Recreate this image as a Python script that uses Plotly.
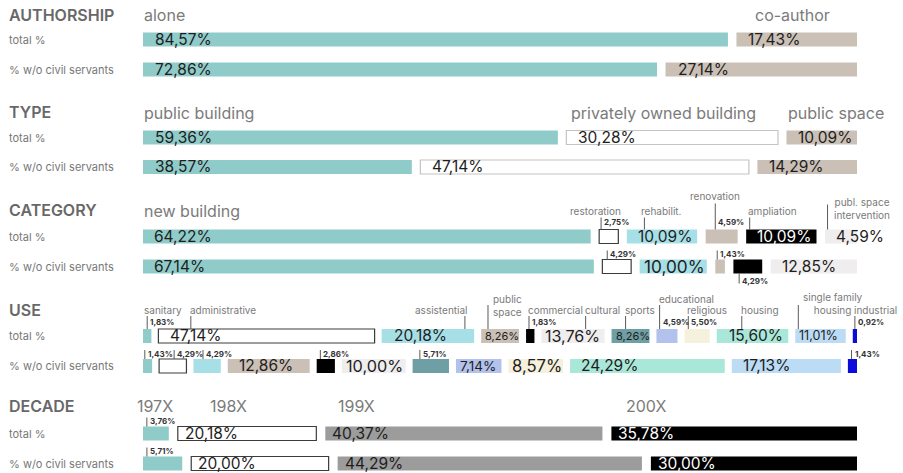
import plotly.graph_objects as go

# ---------------- values (percent) ----------------
row_labels = ["total %", "% w/o civil servants"]

authorship_names = ["alone", "co-author"]
authorship_total = [84.57, 17.43]
authorship_wo = [72.86, 27.14]

type_names = ["public building", "privately owned building", "public space"]
type_total = [59.36, 30.28, 10.09]
type_wo = [38.57, 47.14, 14.29]

category_names = ["new building", "restoration", "rehabilit.", "renovation",
                  "ampliation", "publ. space<br>intervention"]
category_total = [64.22, 2.75, 10.09, 4.59, 10.09, 4.59]
category_wo = [67.14, 4.29, 10.00, 1.43, 4.29, 12.85]

use_names = ["sanitary", "administrative", "assistential", "public<br>space",
             "commercial", "cultural", "sports", "educational", "religious",
             "housing", "single family<br>housing", "industrial"]
use_total = [1.83, 47.14, 20.18, 8.26, 1.83, 13.76, 8.26, 4.59, 5.50, 15.60, 11.01, 0.92]
use_wo = [1.43, 4.29, 4.29, 12.86, 2.86, 10.00, 5.71, 7.14, 8.57, 24.29, 17.13, 1.43]

decade_names = ["197X", "198X", "199X", "200X"]
decade_total = [3.76, 20.18, 40.37, 35.78]
decade_wo = [5.71, 20.00, 44.29, 30.00]

# ---------------- palette ----------------
TEAL = "#8fcbc9"
BEIGE = "#cac0b6"
WHITE = "#ffffff"
CYAN = "#a6dfe6"
BLACK = "#000000"
LGRAY = "#efeded"
DTEAL = "#6e9fa4"
LAV = "#b3c2ec"
CREAM = "#f6f1dc"
MINT = "#a9e8d8"
LBLUE = "#bcdcf5"
BLUE = "#0b0bdc"
GRAY = "#9c9c9c"
EDGE_DARK = "#3c3c3c"
EDGE_LIGHT = "#c4c4c4"

# ---------------- geometry (pixels) ----------------
W, H = 903, 473
X0, X1 = 143, 857
BAR_H = 14
FONT = "Inter, Lato, 'DejaVu Sans', sans-serif"
VALUE_SIZE = 15.5

fig = go.Figure()


def pct(v):
    return f"{v:.2f}".replace(".", ",") + "%"


def segments(values, gap):
    """Each row fills the full span; segment widths stay proportional."""
    avail = (X1 - X0) - gap * (len(values) - 1)
    k = avail / sum(values)
    starts, widths, pos = [], [], X0
    for v in values:
        starts.append(pos)
        widths.append(v * k)
        pos += v * k + gap
    return starts, widths


def text(x, y, s, size, color, xanchor="left", yanchor="middle", weight=400):
    fig.add_annotation(x=x, y=y, text=s, showarrow=False, xanchor=xanchor,
                       yanchor=yanchor, xref="x", yref="y", borderpad=0,
                       font=dict(family=FONT, size=size, color=color, weight=weight))


def vline(x, y0, y1):
    fig.add_shape(type="line", x0=x, x1=x, y0=y0, y1=y1, xref="x", yref="y",
                  line=dict(color="#5a5a5a", width=1))


def text_em(label):
    digits = sum(ch.isdigit() for ch in label)
    return digits * 0.62 + 0.28 + 0.85


def bar_row(values, yc, colors, edges, modes, gap, leaders=None, tick_fracs=None,
            pad=10):
    starts, widths = segments(values, gap)
    fig.add_trace(go.Bar(
        orientation="h", y=[yc] * len(values), x=widths, base=starts,
        width=BAR_H,
        marker=dict(color=colors,
                    line=dict(color=[e or "rgba(0,0,0,0)" for e in edges],
                              width=[1.2 if e else 0 for e in edges])),
        hoverinfo="skip", showlegend=False))
    top, bot = yc - BAR_H / 2, yc + BAR_H / 2
    n = len(values)
    for i, (v, s, w, m) in enumerate(zip(values, starts, widths, modes)):
        if tick_fracs:
            tx = s + tick_fracs[i] * w
        else:
            tx = s + min(2.5, w / 2)
        if m in ("in", "inw"):
            label = pct(v)
            p = pad
            size = VALUE_SIZE
            room = w - p - 3
            if i < n - 1 and text_em(label) * size > room:
                p = 3
                room = w - 5
                size = max(11, room / text_em(label))
            text(s + p, yc - 0.5, label, size,
                 "#ffffff" if m == "inw" else "#1e1e1e")
        elif m == "up":
            if leaders:
                tx = leaders[i]
                ly = top - 7.5
            else:
                vline(tx, top - 9, top)
                ly = top - 5.5
            text(tx + 2, ly, pct(v), 8, "#333333", weight=700)
        elif m == "down":
            vline(tx, bot, bot + 10)
            text(tx + 2, bot + 7.5, pct(v), 8, "#333333", weight=700)
    return starts, widths


def leader_positions(values, gap, fracs):
    starts, widths = segments(values, gap)
    return [s + f * w for s, w, f in zip(starts, widths, fracs)]


def leader_names(names, values, gap, yc, styles, skip_first=False):
    """Small category names joined to their segment by a thin leader line."""
    top = yc - BAR_H / 2
    fr = [st[0] for st in styles]
    xs = leader_positions(values, gap, fr)
    for i, (name, lx, st) in enumerate(zip(names, xs, styles)):
        if skip_first and i == 0:
            continue
        _, dx, anchor, lead, nb = st
        vline(lx, top - lead, top)
        text(lx + dx, top - nb, name, 10, "#7a7a7a", xanchor=anchor, yanchor="bottom")
    return xs


def section_title(y, title):
    text(8, y, title, 16, "#686868", weight=600)


def row_names(ys):
    for y, lab in zip(ys, row_labels):
        text(8, y, lab, 11, "#777777")


def big_names(names, values, gap, y, dxs):
    starts, _ = segments(values, gap)
    for name, s, dx in zip(names, starts, dxs):
        text(s + dx, y, name, 16, "#7b7b7b")


# ---------------- AUTHORSHIP ----------------
g = 8.5
section_title(15, "AUTHORSHIP")
row_names([39.5, 69.5])
big_names(authorship_names, authorship_total, g, 15, [0, 18])
bar_row(authorship_total, 39.5, [TEAL, BEIGE], [None, None], ["in", "in"], g, pad=11)
bar_row(authorship_wo, 69.5, [TEAL, BEIGE], [None, None], ["in", "in"], g, pad=11)

# ---------------- TYPE ----------------
section_title(112, "TYPE")
row_names([137.5, 167])
big_names(type_names, type_total, g, 113, [0, 4, 1])
type_colors = [TEAL, WHITE, BEIGE]
type_edges = [None, EDGE_LIGHT, None]
bar_row(type_total, 137.5, type_colors, type_edges, ["in"] * 3, g, pad=11)
bar_row(type_wo, 167, type_colors, type_edges, ["in"] * 3, g, pad=11)

# ---------------- CATEGORY ----------------
section_title(210, "CATEGORY")
row_names([236.5, 266.5])
big_names(category_names[:1], category_total[:1], g, 211, [0])
cat_colors = [TEAL, WHITE, CYAN, BEIGE, BLACK, LGRAY]
cat_edges = [None, EDGE_DARK, None, None, None, None]
# (leader fraction, text dx, anchor, leader length, name bottom offset)
cat_styles = [(0, 0, "left", 0, 0),
              (0.1, 21, "right", 12, 12),
              (0.25, -4, "left", 12, 12),
              (0.3, 0, "center", 26, 27),
              (0.05, -3, "left", 12, 12),
              (0.08, 5, "left", 25, 8)]
cat_leaders = leader_names(category_names, category_total, g, 236.5, cat_styles,
                           skip_first=True)
bar_row(category_total, 236.5, cat_colors, cat_edges,
        ["in", "up", "in", "up", "inw", "in"], g, leaders=cat_leaders)
bar_row(category_wo, 266.5, cat_colors, cat_edges,
        ["in", "up", "in", "up", "down", "in"], g,
        tick_fracs=[0, 0.17, 0, 0.2, 0.2, 0])

# ---------------- USE ----------------
gu = 7
section_title(310, "USE")
row_names([336, 366])
use_colors = [TEAL, WHITE, CYAN, BEIGE, BLACK, LGRAY, DTEAL, LAV, CREAM, MINT, LBLUE, BLUE]
use_edges = [None, EDGE_DARK] + [None] * 10
use_styles = [(0.5, -4, "left", 13, 12),
              (0.15, -2, "left", 13, 12),
              (0.9, 4, "right", 13, 12),
              (0.18, 4, "left", 24, 10),
              (0.35, -2, "left", 13, 12),
              (0.7, -2, "left", 13, 12),
              (0.37, -2, "left", 13, 12),
              (0.15, -2, "left", 24, 23),
              (0.15, -2, "left", 13, 12),
              (0.35, -2, "left", 13, 12),
              (0.06, 4, "left", 24, 12),
              (0.5, -2, "left", 13, 12)]
use_leaders = leader_names(use_names, use_total, gu, 336, use_styles)
bar_row(use_total, 336, use_colors, use_edges,
        ["up", "in", "in", "in", "up", "in", "in", "up", "up", "in", "in", "up"],
        gu, leaders=use_leaders, pad=11)
bar_row(use_wo, 366, use_colors, use_edges,
        ["up", "up", "up", "in", "up", "in", "up", "in", "in", "in", "in", "up"], gu,
        tick_fracs=[0.2, 0.55, 0.35, 0, 0.2, 0, 0.2, 0, 0, 0, 0, 0.4])

# ---------------- DECADE ----------------
gd = 9
section_title(406, "DECADE")
row_names([433.5, 463.5])
big_names(decade_names, decade_total, gd, 406, [-7, 31, 12, 14])
dec_colors = [TEAL, WHITE, GRAY, BLACK]
dec_edges = [None, EDGE_DARK, None, None]
bar_row(decade_total, 433.5, dec_colors, dec_edges, ["up", "in", "in", "inw"], gd,
        tick_fracs=[0.15, 0, 0, 0], pad=6)
bar_row(decade_wo, 463.5, dec_colors, dec_edges, ["up", "in", "in", "inw"], gd,
        tick_fracs=[0.1, 0, 0, 0], pad=6)

fig.update_layout(
    width=W, height=H,
    margin=dict(l=0, r=0, t=0, b=0),
    paper_bgcolor="#ffffff", plot_bgcolor="#ffffff",
    barmode="overlay", showlegend=False,
    xaxis=dict(range=[0, W], visible=False, fixedrange=True),
    yaxis=dict(range=[H, 0], visible=False, fixedrange=True),
)

fig.write_html("out.html")
